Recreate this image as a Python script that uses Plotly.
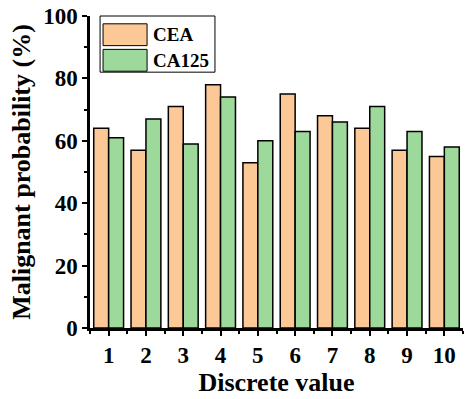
import plotly.graph_objects as go

# Discrete value categories and malignant probability (%) per marker
categories = [1, 2, 3, 4, 5, 6, 7, 8, 9, 10]
cea_values = [64, 57, 71, 78, 53, 75, 68, 64, 57, 55]
ca125_values = [61, 67, 59, 74, 60, 63, 66, 71, 63, 58]
series_names = ["CEA", "CA125"]
series_colors = ["#FCC896", "#9ED99C"]
y_ticks = [0, 20, 40, 60, 80, 100]

FONT = "Liberation Serif"

fig = go.Figure()
for name, vals, col in zip(series_names, [cea_values, ca125_values], series_colors):
    fig.add_trace(go.Bar(
        x=categories, y=vals, name=name,
        marker=dict(color=col, line=dict(color="black", width=1.5)),
        showlegend=False,
    ))

# Hand-built legend box with wide colour patches
shapes = [dict(type="rect", xref="paper", yref="paper",
               x0=0.027, x1=0.335, y0=0.82, y1=1.0,
               line=dict(color="black", width=1), fillcolor="white", layer="above")]
annotations = []
row_y = [(0.905, 0.975), (0.823, 0.893)]
for (y0, y1), name, col in zip(row_y, series_names, series_colors):
    shapes.append(dict(type="rect", xref="paper", yref="paper",
                       x0=0.035, x1=0.153, y0=y0, y1=y1,
                       line=dict(color="black", width=1), fillcolor=col, layer="above"))
    annotations.append(dict(xref="paper", yref="paper", x=0.163, y=(y0 + y1) / 2,
                            text="<b>%s</b>" % name, showarrow=False,
                            xanchor="left", yanchor="middle",
                            font=dict(family=FONT, size=19, color="black")))

fig.update_layout(
    width=465, height=399,
    margin=dict(l=90, r=2, t=16, b=71),
    plot_bgcolor="white", paper_bgcolor="white",
    barmode="group", bargap=0.2, bargroupgap=0,
    font=dict(family=FONT, color="black"),
    shapes=shapes, annotations=annotations,
    xaxis=dict(
        range=[0.5, 10.5], tickmode="array", tickvals=categories,
        ticktext=["<b>%d</b>" % c for c in categories],
        tickfont=dict(family=FONT, size=23),
        ticks="outside", ticklen=5, tickwidth=2, tickcolor="black",
        minor=dict(tickvals=[c + 0.5 for c in [0] + categories], ticks="outside",
                   ticklen=3, tickwidth=2, tickcolor="black"),
        showline=True, linecolor="black", linewidth=2.5,
        showgrid=False, zeroline=False,
        title=dict(text="<b>Discrete value</b>", font=dict(family=FONT, size=26), standoff=2),
    ),
    yaxis=dict(
        range=[0, 100], tickmode="array", tickvals=y_ticks,
        ticktext=["<b>%d</b>" % v for v in y_ticks],
        tickfont=dict(family=FONT, size=23),
        ticks="outside", ticklen=5, tickwidth=2, tickcolor="black",
        minor=dict(tickvals=[10, 30, 50, 70, 90], ticks="outside",
                   ticklen=3, tickwidth=2, tickcolor="black"),
        showline=True, linecolor="black", linewidth=2.5,
        showgrid=False, zeroline=False,
        title=dict(text="<b>Malignant probability (%)</b>", font=dict(family=FONT, size=26), standoff=6),
    ),
)

fig.write_html("out.html")
